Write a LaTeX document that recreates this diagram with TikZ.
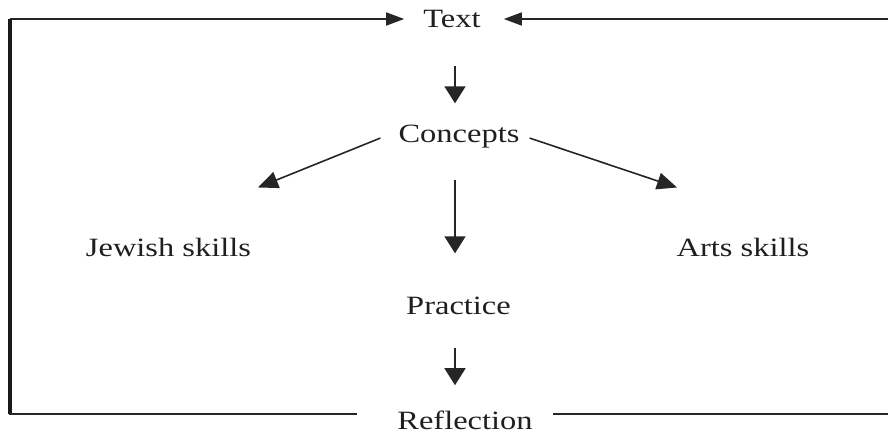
\documentclass[tikz,border=0pt]{standalone}
\usepackage{fontspec}
\setmainfont[FakeStretch=1.23]{Liberation Serif}
\usetikzlibrary{arrows.meta}
\begin{document}
\begin{tikzpicture}[x=1pt,y=-1pt,
  lbl/.style={anchor=base,inner sep=0pt,font=\fontsize{26.4}{32}\selectfont,text=black!88},
  conn/.style={line width=1.6pt,draw=black!85},
  arrv/.style={conn,-{Triangle[length=17pt,width=21pt]}},
  arrh/.style={conn,-{Triangle[length=18pt,width=13pt]}},
  arrd/.style={conn,-{Triangle[length=20pt,width=17pt]}}]
\useasboundingbox (0,0) rectangle (888,435);
\node[lbl] (txt) at (452,28) {Text};
\node[lbl] (con) at (459,143) {Concepts};
\node[lbl] (jew) at (168.5,257) {Jewish skills};
\node[lbl] (arts) at (743,257) {Arts skills};
\node[lbl] (pra) at (458.5,315) {Practice};
\node[lbl] (ref) at (465,429) {Reflection};
% corners of the feedback loop
\coordinate (tl) at (10,19);
\coordinate (bl) at (10,414);
\coordinate (tr) at (888,19);
\coordinate (br) at (888,414);
% top arrows into Text
\draw[arrh] (tl) -- ([xshift=-19pt]txt.west |- tl);
\draw[arrh] (tr) -- ([xshift=23pt]txt.east |- tr);
% left vertical thick line
\draw[line width=4pt,draw=black!90] (tl) -- (bl);
% bottom lines beside Reflection
\draw[conn] ([xshift=-1pt]bl) -- ([xshift=-40pt]ref.west |- bl);
\draw[conn] ([xshift=20pt]ref.east |- br) -- (br);
% down arrows
\draw[arrv] ([xshift=3pt,yshift=-38pt]txt.south) -- ([xshift=-4pt,yshift=22pt]con.north);
\draw[arrv] ([xshift=-4pt,yshift=-31pt]con.south) -- ([xshift=-3.5pt,yshift=44pt]pra.north);
\draw[arrv] ([xshift=-3.5pt,yshift=-33pt]pra.south) -- ([xshift=-10pt,yshift=25pt]ref.north);
% diagonal arrows
\draw[arrd] ([xshift=-18pt,yshift=-1pt]con.west) -- ([xshift=89.5pt,yshift=51pt]jew.north);
\draw[arrd] ([xshift=10pt,yshift=-1pt]con.east) -- ([xshift=-66pt,yshift=51pt]arts.north);
\end{tikzpicture}
\end{document}
